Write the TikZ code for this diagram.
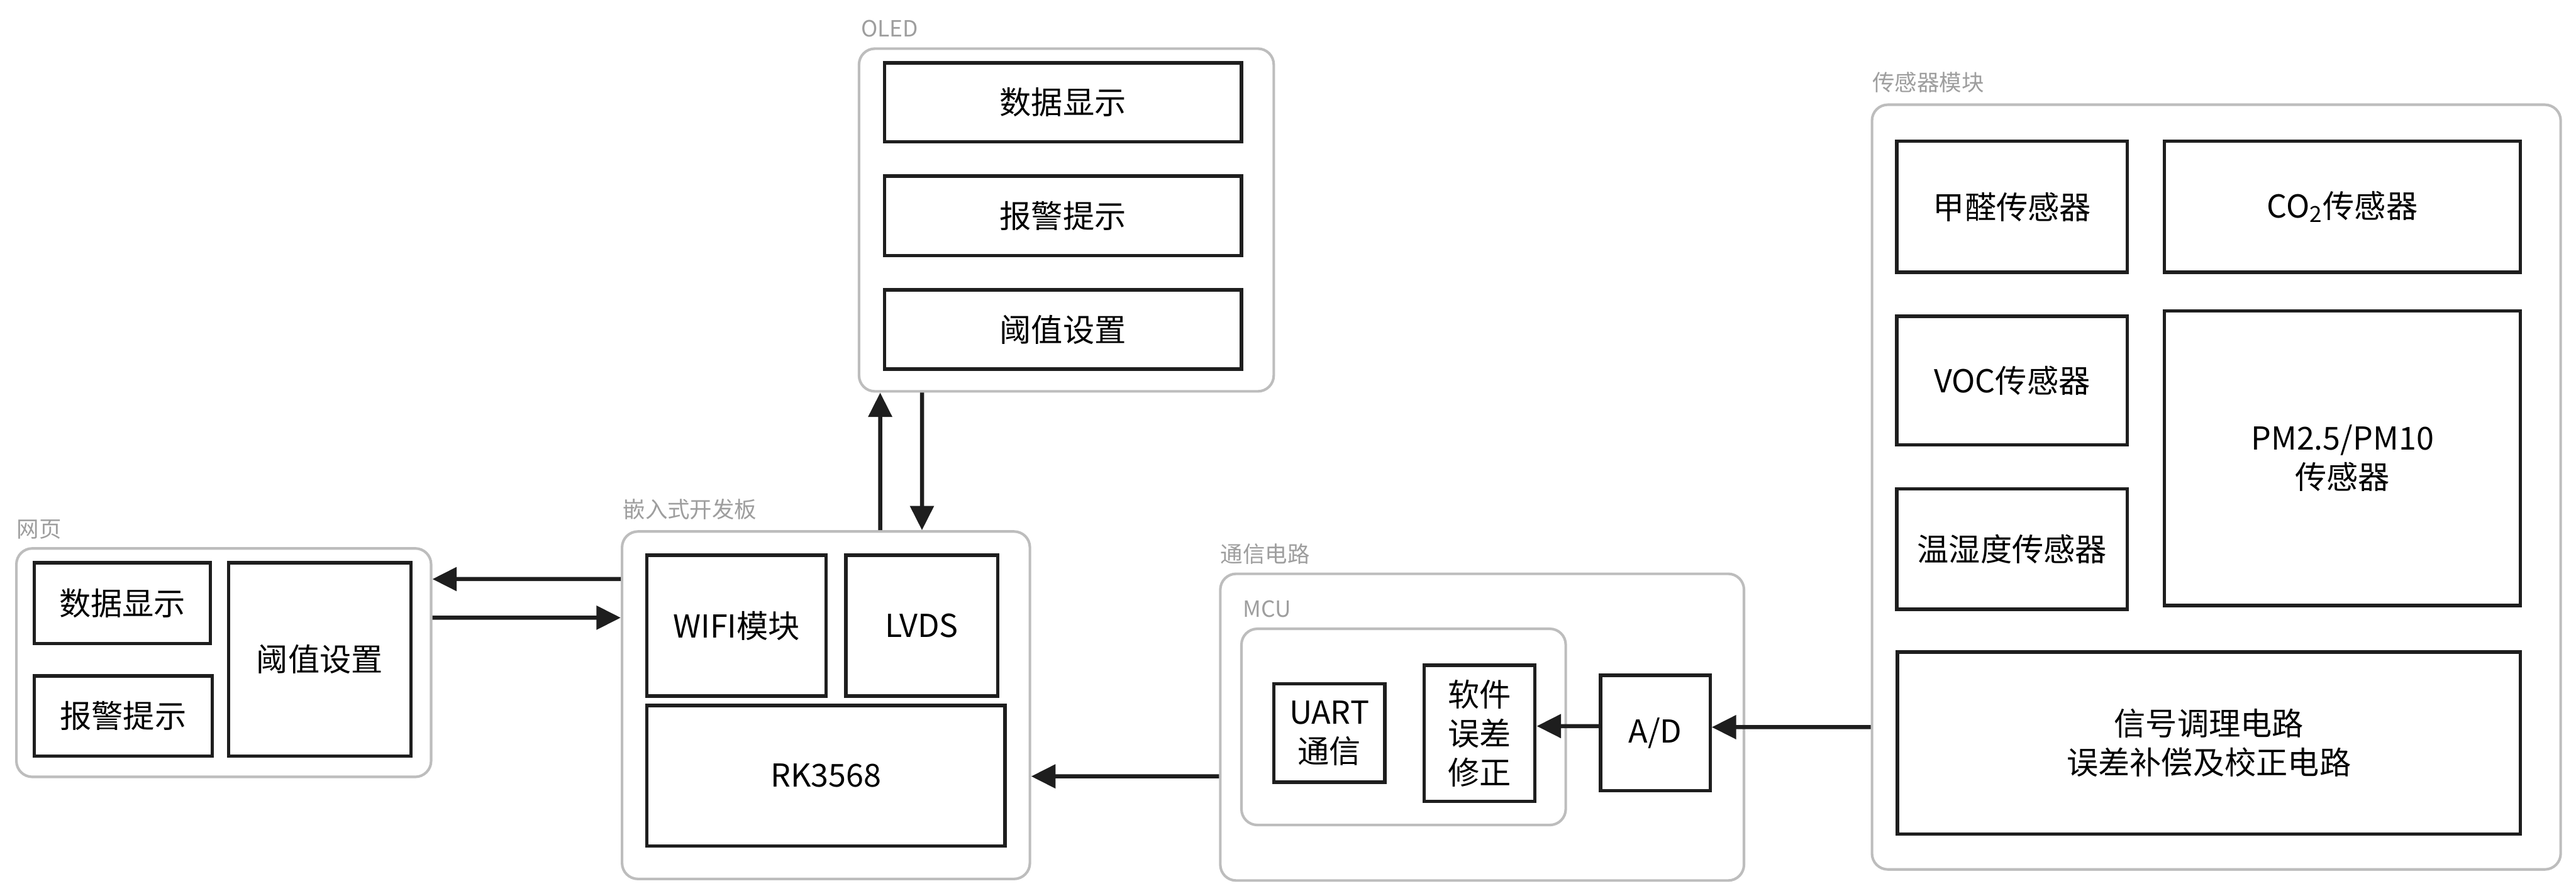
\documentclass[tikz,border=0pt]{standalone}
\usepackage{fontspec}
\setmainfont{Noto Sans CJK SC}
\usetikzlibrary{arrows.meta}
\definecolor{framegray}{HTML}{BDBDBD}
\definecolor{labelgray}{HTML}{9E9E9E}
\definecolor{ink}{HTML}{1E1E1E}

\begin{document}
\begin{tikzpicture}[
  group/.style={draw=framegray,line width=1.4pt,rounded corners=3mm,fill=white,inner sep=0pt},
  part/.style={draw=ink,line width=1.8pt,fill=white,align=center,inner sep=0pt,
    font=\fontsize{17}{21}\selectfont},
  tag/.style={text=labelgray,anchor=west,inner sep=0pt,font=\fontsize{12}{14}\selectfont},
  flow/.style={draw=ink,line width=2.2pt,-{Triangle[length=4.6mm,width=4.4mm]}}]

  \useasboundingbox[fill=white] (0,0) rectangle (48.70,-16.94);

  \begin{scope}
    \node[tag] (webtag) at (0.31,-10.01) {网页};
    \node[group,minimum width=7.84cm,minimum height=4.32cm] (web) at (4.23,-12.53) {};
    \node[part,minimum width=3.33cm,minimum height=1.53cm] (wshow) at (2.315,-11.405) {数据显示};
    \node[part,minimum width=3.36cm,minimum height=1.52cm] (walarm) at (2.33,-13.54) {报警提示};
    \node[part,minimum width=3.45cm,minimum height=3.66cm] (wset) at (6.045,-12.47) {阈值设置};
  \end{scope}

  \begin{scope}
    \node[tag] (boardtag) at (11.77,-9.63) {嵌入式开发板};
    \node[group,minimum width=7.71cm,minimum height=6.57cm] (board) at (15.615,-13.335) {};
    \node[part,minimum width=3.39cm,minimum height=2.66cm] (wifi) at (13.925,-11.83) {WIFI模块};
    \node[part,minimum width=2.87cm,minimum height=2.66cm] (lvds) at (17.425,-11.83) {LVDS};
    \node[part,minimum width=6.77cm,minimum height=2.66cm] (rk) at (15.615,-14.67) {RK3568};
  \end{scope}

  \begin{scope}
    \node[tag] (oledtag) at (16.27,-0.54) {OLED};
    \node[group,minimum width=7.84cm,minimum height=6.48cm] (oled) at (20.16,-4.16) {};
    \node[part,minimum width=6.75cm,minimum height=1.49cm] (oshow) at (20.095,-1.935) {数据显示};
    \node[part,minimum width=6.75cm,minimum height=1.50cm] (oalarm) at (20.095,-4.08) {报警提示};
    \node[part,minimum width=6.75cm,minimum height=1.50cm] (oset) at (20.095,-6.23) {阈值设置};
  \end{scope}

  \begin{scope}
    \node[tag] (commtag) at (23.07,-10.47) {通信电路};
    \node[group,minimum width=9.90cm,minimum height=5.80cm] (comm) at (28.02,-13.75) {};
    \node[tag] (mcutag) at (23.49,-11.52) {MCU};
    \node[group,minimum width=6.13cm,minimum height=3.71cm] (mcu) at (26.535,-13.745) {};
    \node[part,minimum width=2.10cm,minimum height=1.86cm] (uart) at (25.13,-13.86) {UART\\通信};
    \node[part,minimum width=2.10cm,minimum height=2.57cm] (soft) at (27.97,-13.865) {软件\\误差\\修正};
    \node[part,minimum width=2.07cm,minimum height=2.18cm] (ad) at (31.295,-13.86) {A/D};
  \end{scope}

  \begin{scope}
    \node[tag] (sensortag) at (35.39,-1.56) {传感器模块};
    \node[group,minimum width=13.02cm,minimum height=14.46cm] (sensor) at (41.90,-9.21) {};
    \node[part,minimum width=4.36cm,minimum height=2.48cm] (hcho) at (38.04,-3.91) {甲醛传感器};
    \node[part,minimum width=6.73cm,minimum height=2.48cm] (co2) at (44.285,-3.91) {CO\textsubscript{2}传感器};
    \node[part,minimum width=4.36cm,minimum height=2.43cm] (voc) at (38.04,-7.195) {VOC传感器};
    \node[part,minimum width=6.73cm,minimum height=5.57cm] (pm) at (44.285,-8.665) {PM2.5/PM10\\传感器};
    \node[part,minimum width=4.36cm,minimum height=2.28cm] (th) at (38.04,-10.38) {温湿度传感器};
    \node[part,minimum width=11.78cm,minimum height=3.44cm] (sig) at (41.76,-14.05) {信号调理电路\\误差补偿及校正电路};
  \end{scope}

  \draw[flow] ([yshift=2.385cm]board.west) -- ([yshift=1.58cm]web.east);
  \draw[flow] ([yshift=0.85cm]web.east) -- ([yshift=1.655cm]board.west);
  \draw[flow] ([xshift=1.025cm]board.north) -- ([xshift=-3.52cm]oled.south);
  \draw[flow] ([xshift=-2.73cm]oled.south) -- ([xshift=1.815cm]board.north);
  \draw[flow] ([yshift=-0.93cm]comm.west) -- ([yshift=-1.345cm]board.east);
  \draw[flow] ([yshift=1.3mm]ad.west) -- ([yshift=1.35mm]soft.east);
  \draw[flow] ([yshift=-4.54cm]sensor.west) -- ([yshift=1.1mm]ad.east);

\end{tikzpicture}
\end{document}
